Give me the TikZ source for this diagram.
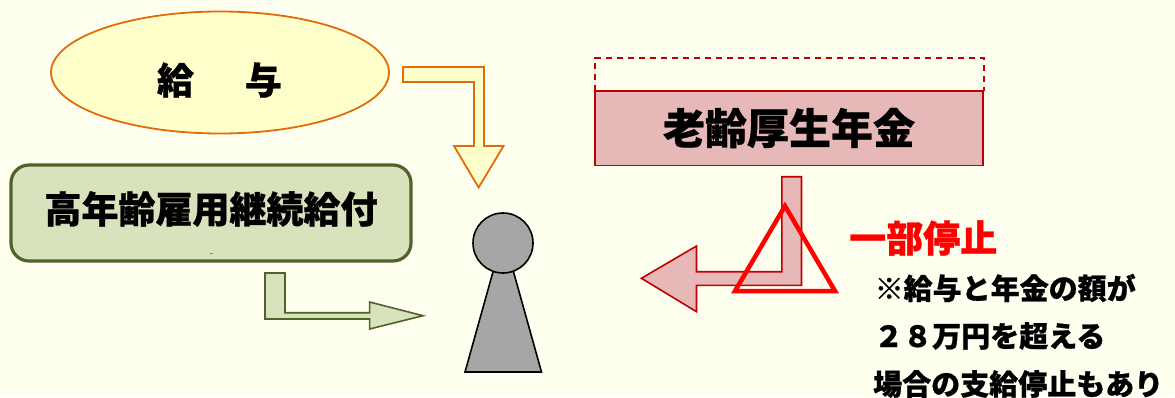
\documentclass[tikz,border=0pt]{standalone}
\usepackage{fontspec}
\usetikzlibrary{shapes.geometric}
\newfontfamily\cjk{Noto Sans CJK JP Black}[FakeBold=0.8]
\definecolor{bgc}{HTML}{FFFFF0}
\definecolor{ofill}{HTML}{FFFFCC}
\definecolor{oline}{HTML}{E36C0A}
\definecolor{gfill}{HTML}{D8E2BC}
\definecolor{gline}{HTML}{4F6228}
\definecolor{rfill}{HTML}{E6B8B7}
\definecolor{rline}{HTML}{C00000}
\definecolor{pgray}{HTML}{A6A6A6}
\tikzset{
  label37/.style={inner sep=0pt,font=\cjk\fontsize{37}{37}\selectfont,text=black},
  note/.style={inner sep=0pt,anchor=west,font=\cjk\fontsize{29}{29}\selectfont,text=black},
  oarrow/.style={draw=oline,fill=ofill,line width=1.8pt,line join=miter},
  garrow/.style={draw=gline,fill=gfill,line width=1.6pt,line join=miter},
  rarrow/.style={draw=rline,fill=rfill,line width=1.6pt,line join=miter},
  person/.style={draw=black,fill=pgray,line width=1.6pt}
}
\begin{document}
\begin{tikzpicture}[x=1pt,y=-1pt]
\useasboundingbox (0,0) rectangle (1175,397);
\fill[bgc] (0,0) rectangle (1175,397);
% salary
\node[ellipse,draw=oline,fill=ofill,line width=1.8pt,minimum width=338pt,minimum height=122pt,inner sep=0pt] (salary) at (220,72.5) {};
\node[label37] (salarytext) at (219.5,80) {給\hspace{51pt}与};
\draw[oarrow] (403,67) -- (484,67) -- (484,146) -- (503.5,146) -- (478.6,187.5) -- (454,146) -- (474,146) -- (474,82) -- (403,82) -- cycle;
% benefit
\node[rectangle,rounded corners=18pt,draw=gline,fill=gfill,line width=3.2pt,minimum width=400pt,minimum height=96pt,inner sep=0pt] (benefit) at (211,213) {};
\node[label37] (benefittext) at (211,209) {高年齢雇用継続給付};
\node[inner sep=0pt] (speck) at (211,253.5) {\tikz\fill[gline!70] (0,0) rectangle (3pt,.7pt);};
\draw[garrow] (265,273) -- (285,273) -- (285,312.7) -- (369.6,312.7) -- (369.6,302) -- (423,315.7) -- (369.6,329) -- (369.6,319) -- (265,319) -- cycle;
% person
\draw[person] (493.5,270) -- (465,372) -- (541.5,372) -- (513,270) -- cycle;
\node[circle,person,minimum size=60pt,inner sep=0pt] (head) at (503,243) {};
% pension
\draw[rline,line width=2pt,dash pattern=on 6pt off 5pt] (595,91) -- (595,57.5) -- (983.5,57.5) -- (983.5,91);
\node[rectangle,draw=rline,fill=rfill,line width=1.8pt,minimum width=388pt,minimum height=74.5pt,inner sep=0pt] (pension) at (789.2,128.3) {};
\node[inner sep=0pt,font=\cjk\fontsize{42}{42}\selectfont] (pensiontext) at (789,128) {老齢厚生年金};
\draw[rarrow] (781.8,176.7) -- (801.5,176.7) -- (801.5,285.3) -- (696.5,285.3) -- (696.5,311.7) -- (641.4,278.3) -- (696.5,246) -- (696.5,271.7) -- (781.8,271.7) -- cycle;
\draw[draw=red,line width=4.5pt,line join=miter] (785,206) -- (835,291) -- (735,291) -- cycle;
% notes
\node[label37,text=red,anchor=west] (stop) at (849,238) {一部停止};
\node[note] (n1) at (874.5,288) {※給与と年金の額が};
\node[note] (n2) at (874,336) {２８万円を超える};
\node[note] (n3) at (873,384) {場合の支給停止もあり};
\end{tikzpicture}
\end{document}
